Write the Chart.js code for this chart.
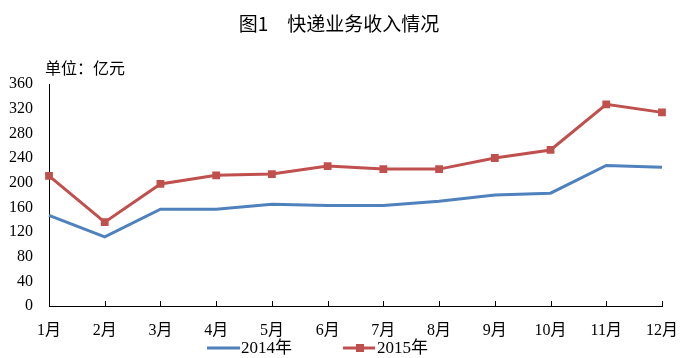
<!DOCTYPE html>
<html>
<head>
<meta charset="utf-8">
<script src="https://cdn.jsdelivr.net/npm/chart.js@4/dist/chart.umd.min.js"></script>
<style>
html,body{margin:0;padding:0;background:#fff;}
#wrap{width:682px;height:358px;position:relative;}
</style>
</head>
<body>
<div id="wrap"><canvas id="c" width="682" height="358"></canvas></div>
<script>
const categories = ["1月","2月","3月","4月","5月","6月","7月","8月","9月","10月","11月","12月"];
const series2014 = [147, 112, 157, 157, 165, 163, 163, 170, 180, 183, 228, 225];
const series2015 = [211, 136, 198, 212, 214, 227, 222, 222, 240, 253, 327, 314];
const seriesNames = ["2014年", "2015年"];
const yTicks = [0, 40, 80, 120, 160, 200, 240, 280, 320, 360];
const titleText = "图1　快递业务收入情况";
const unitText = "单位：亿元";

const BLUE = "#4F81BD";
const RED = "#C0504D";
const SERIF = "'Liberation Serif', 'Noto Sans CJK SC', serif";
const CJK = "'Noto Sans CJK SC', sans-serif";

const decor = {
  id: "decor",
  afterDatasetsDraw(chart) {
    // inward tick marks on the category axis
    const ctx = chart.ctx;
    const xs = chart.scales.x;
    const yb = chart.chartArea.bottom;
    ctx.save();
    ctx.strokeStyle = "#000";
    ctx.lineWidth = 1;
    ctx.beginPath();
    xs.ticks.forEach((t, i) => {
      const px = Math.round(xs.getPixelForTick(i)) + 0.5;
      ctx.moveTo(px, yb);
      ctx.lineTo(px, yb - 5);
    });
    ctx.stroke();
    ctx.restore();
  },
  afterDraw(chart) {
    const ctx = chart.ctx;
    ctx.save();
    ctx.fillStyle = "#000";
    ctx.textBaseline = "middle";
    ctx.font = "19px " + CJK;
    ctx.textAlign = "center";
    ctx.fillText(titleText, 339, 24);
    ctx.font = "16px " + CJK;
    ctx.textAlign = "left";
    ctx.fillText(unitText, 45, 68);
    // legend
    const ly = 348;
    ctx.lineWidth = 3;
    ctx.strokeStyle = BLUE;
    ctx.beginPath(); ctx.moveTo(207, ly); ctx.lineTo(240, ly); ctx.stroke();
    ctx.strokeStyle = RED;
    ctx.beginPath(); ctx.moveTo(343, ly); ctx.lineTo(375, ly); ctx.stroke();
    ctx.fillStyle = RED;
    ctx.fillRect(356, ly - 4, 8, 8);
    ctx.fillStyle = "#000";
    ctx.font = "17px " + SERIF;
    ctx.fillText(seriesNames[0], 241, ly + 1);
    ctx.fillText(seriesNames[1], 377, ly + 1);
    ctx.restore();
  }
};

new Chart(document.getElementById("c"), {
  type: "line",
  data: {
    labels: categories,
    datasets: [
      { label: seriesNames[0], data: series2014, borderColor: BLUE, backgroundColor: BLUE,
        borderWidth: 3, pointRadius: 0, tension: 0 },
      { label: seriesNames[1], data: series2015, borderColor: RED, backgroundColor: RED,
        borderWidth: 3, pointStyle: "rect", pointRadius: 5.5, pointBorderWidth: 0, tension: 0 }
    ]
  },
  options: {
    responsive: false,
    animation: false,
    layout: { padding: { top: 84, right: 20, left: 0, bottom: 0 } },
    plugins: { legend: { display: false }, title: { display: false }, tooltip: { enabled: false } },
    scales: {
      x: {
        offset: false,
        grid: { display: false, drawTicks: false },
        border: { display: true, color: "#000", width: 1 },
        ticks: { color: "#000", font: { family: SERIF, size: 16 }, padding: 15, maxRotation: 0, autoSkip: false },
        afterFit: s => { s.height = 52; s.paddingRight = 0; s.paddingLeft = 0; }
      },
      y: {
        min: 0, max: 360,
        afterBuildTicks: s => { s.ticks = yTicks.map(v => ({ value: v })); },
        grid: { display: false, drawTicks: false },
        border: { display: true, color: "#000", width: 1 },
        ticks: { color: "#000", font: { family: SERIF, size: 16 }, padding: 16 },
        afterFit: s => { s.width = 49; s.paddingTop = 0; s.paddingBottom = 0; }
      }
    }
  },
  plugins: [decor]
});
</script>
</body>
</html>
